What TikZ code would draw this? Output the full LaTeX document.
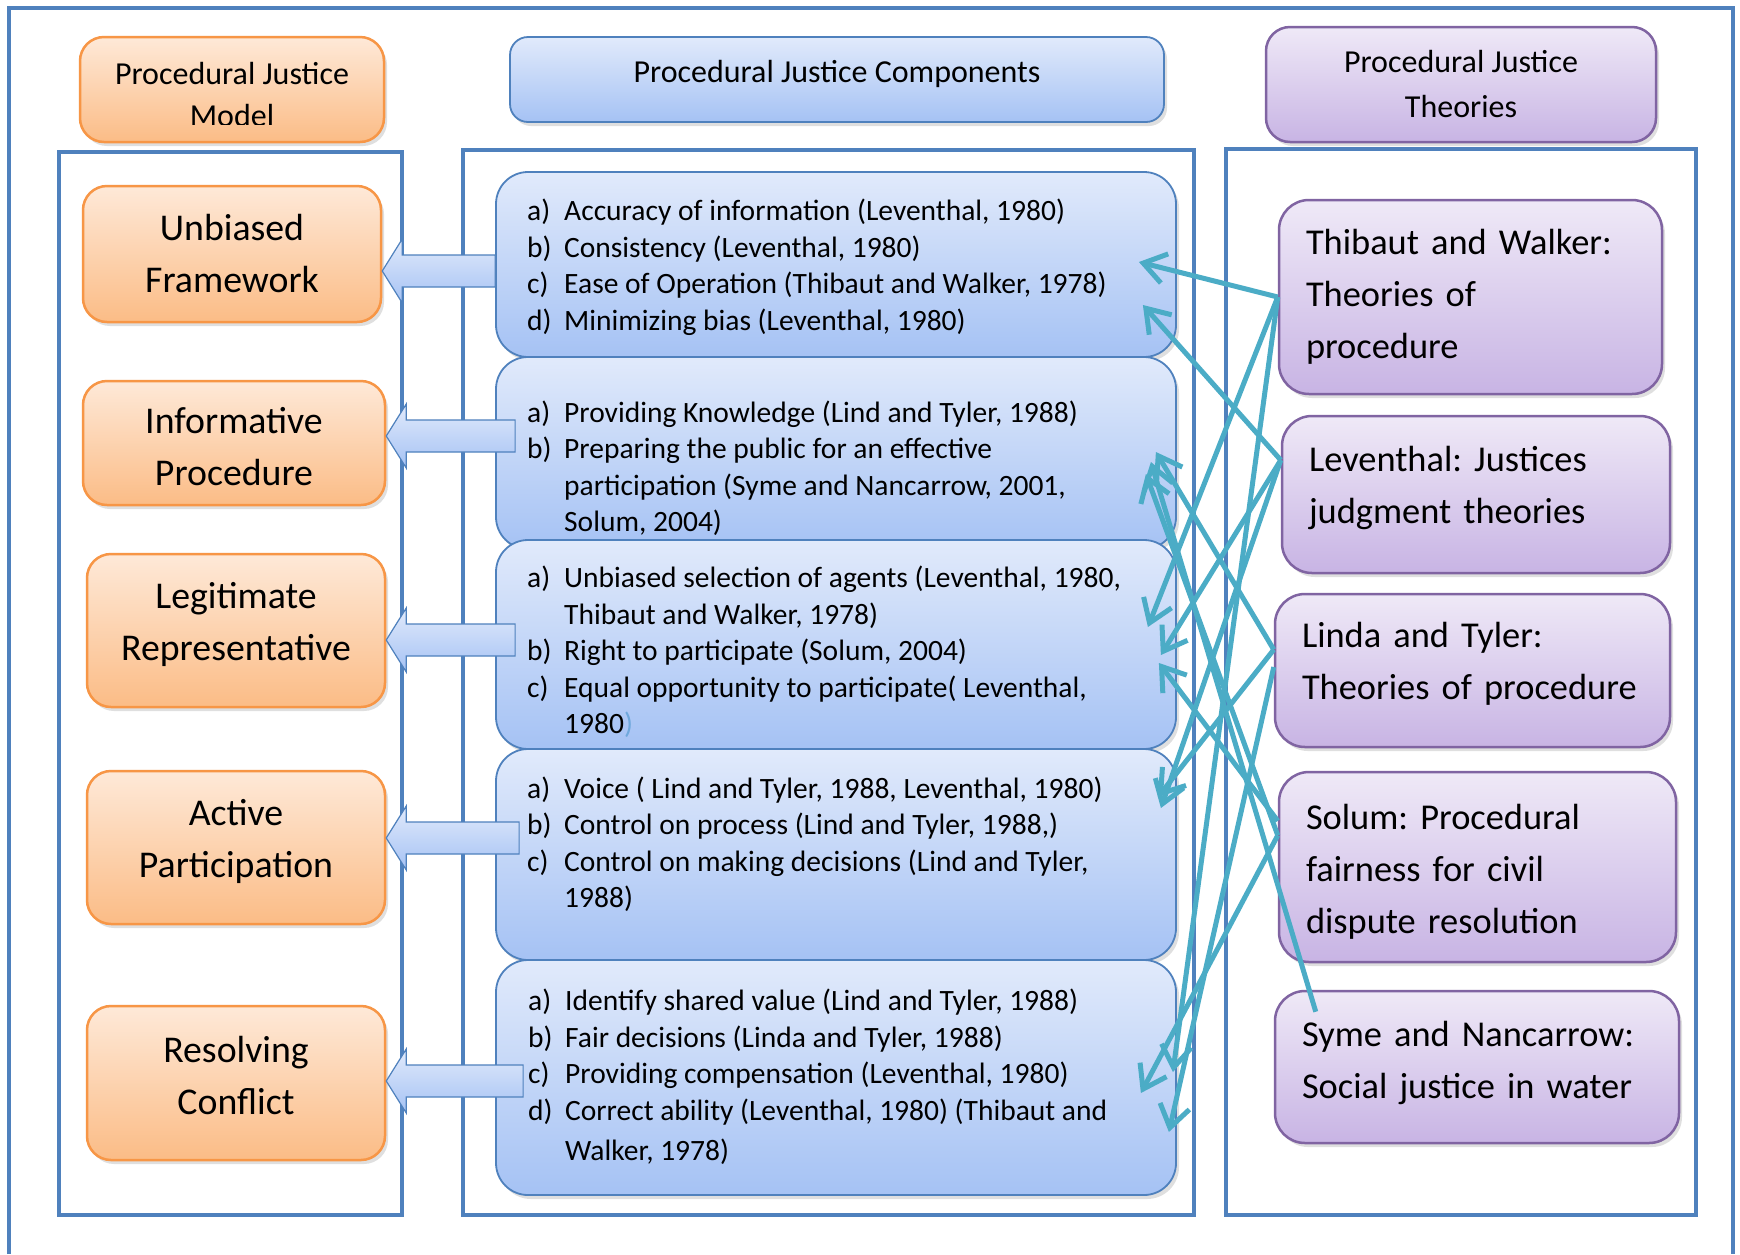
\documentclass[tikz,border=0pt]{standalone}
\usepackage{fontspec}
\setmainfont{Carlito}
\usetikzlibrary{arrows.meta,calc,shadows}

\definecolor{frameblue}{HTML}{4F81BD}
\definecolor{orangeline}{HTML}{F79646}
\definecolor{orangetop}{HTML}{FEE9D8}
\definecolor{orangebot}{HTML}{FBBC86}
\definecolor{comptop}{HTML}{E1EAFB}
\definecolor{compbot}{HTML}{A5C2F4}
\definecolor{purpleline}{HTML}{8064A2}
\definecolor{purpletop}{HTML}{EFE9F7}
\definecolor{purplebot}{HTML}{C8B4E4}
\definecolor{linkteal}{HTML}{4BACC6}
\definecolor{parenblue}{HTML}{6FA8DC}

\newcommand{\itemlbl}[1]{\makebox[37pt][l]{#1}}
\newcommand{\lowstrut}[1]{\rule[-#1]{0pt}{0pt}}
\newcommand{\highstrut}[1]{\rule{0pt}{#1}}
\newcommand{\blockarrow}[4]{%
  \draw[barrow] ($(#1.west |- 0,#3)+(#4,-16)$) -- ($(#2.east |- 0,#3)+(20,-16)$)
    -- ++(0,-16) -- (#2.east |- 0,#3) -- ++(20,32) -- ++(0,-16)
    -- ($(#1.west |- 0,#3)+(#4,16)$) -- cycle;}

\begin{document}
\frenchspacing
\begin{tikzpicture}[x=1pt,y=-1pt,
    colframe/.style={draw=frameblue,line width=4.5pt},
    model/.style={draw=orangeline,line width=2.5pt,rounded corners=24pt,
      top color=orangetop,bottom color=orangebot,
      drop shadow={shadow xshift=3pt,shadow yshift=-4pt,opacity=.25},
      align=center,inner sep=0pt,font=\fontsize{37.8}{52}\selectfont},
    comp/.style={draw=frameblue,line width=1.8pt,rounded corners=32pt,
      top color=comptop,bottom color=compbot,
      drop shadow={shadow xshift=3pt,shadow yshift=-4pt,opacity=.25},
      inner sep=0pt},
    comptext/.style={anchor=west,align=left,inner sep=0pt,
      font=\fontsize{29.5}{36.5}\selectfont},
    theory/.style={draw=purpleline,line width=2.5pt,rounded corners=30pt,
      top color=purpletop,bottom color=purplebot,
      drop shadow={shadow xshift=3pt,shadow yshift=-4pt,opacity=.25},
      align=left,inner xsep=27pt,inner ysep=0pt,
      font=\fontsize{36.4}{52}\selectfont},
    barrow/.style={draw=frameblue,line width=1.2pt,top color=comptop,bottom color=compbot},
    link/.style={draw=linkteal,line width=5pt,-{Straight Barb[length=22pt,width=30pt]}}]

    \path[use as bounding box,fill=white] (0,0) rectangle (1740,1254);

    % frames
    \draw[colframe] (9,1254) -- (9,8) -- (1733,8) -- (1733,1254);
    \draw[colframe] (59,152) rectangle (402,1215);
    \draw[colframe] (463,150) rectangle (1194,1215);
    \draw[colframe] (1226,149) rectangle (1696,1215);

    % headings
    \node[model,minimum width=304pt,minimum height=105pt] (pjm) at (232,89.5) {};
    \begin{scope}
        \clip (82,39) rectangle (382,124);
        \node[align=center,font=\fontsize{32}{42}\selectfont] (pjmtext) at (232,94) {Procedural Justice\\Model};
    \end{scope}
    \node[comp,minimum width=654pt,minimum height=85pt,rounded corners=18pt,text depth=16pt,
          font=\fontsize{32}{42}\selectfont] (pjc) at (837,79.5) {Procedural Justice Components};
    \node[theory,align=center,minimum width=390pt,minimum height=115pt,rounded corners=24pt,
          font=\fontsize{32}{45}\selectfont] (pjt) at (1461,84.5) {Procedural Justice\\Theories};

    % model
    \node[model,minimum width=298pt,minimum height=136pt] (n1) at (232,254) {Unbiased\\Framework};
    \node[model,minimum width=302pt,minimum height=124pt] (n2) at (234,443) {\highstrut{34pt}Informative\\Procedure};
    \node[model,minimum width=298pt,minimum height=153pt] (n3) at (236,630.5) {Legitimate\\Representative\lowstrut{18pt}};
    \node[model,minimum width=298pt,minimum height=153pt] (n4) at (236,847.5) {Active\\Participation\lowstrut{18pt}};
    \node[model,minimum width=298pt,minimum height=154pt] (n5) at (236,1083) {Resolving\\Conflict\lowstrut{16pt}};

    % components
    \node[comp,minimum width=680pt,minimum height=185pt] (c1) at (836,264.5) {};
    \node[comptext] (c1t) at (527,267) {\itemlbl{a)}Accuracy of information (Leventhal, 1980)\\
        \itemlbl{b)}Consistency (Leventhal, 1980)\\
        \itemlbl{c)}Ease of Operation (Thibaut and Walker, 1978)\\
        \itemlbl{d)}Minimizing bias (Leventhal, 1980)};
    \node[comp,minimum width=680pt,minimum height=192pt] (c2) at (836,453) {};
    \node[comptext] (c2t) at (527,468) {\itemlbl{a)}Providing Knowledge (Lind and Tyler, 1988)\\
        \itemlbl{b)}Preparing the public for an effective\\
        \itemlbl{}participation (Syme and Nancarrow, 2001,\\
        \itemlbl{}Solum, 2004)};
    \node[comp,minimum width=680pt,minimum height=209pt] (c3) at (836,644.5) {};
    \node[comptext] (c3t) at (527,652) {\itemlbl{a)}Unbiased selection of agents (Leventhal, 1980,\\
        \itemlbl{}Thibaut and Walker, 1978)\\
        \itemlbl{b)}Right to participate (Solum, 2004)\\
        \itemlbl{c)}Equal opportunity to participate( Leventhal,\\
        \itemlbl{}1980\textcolor{parenblue}{)}};
    \node[comp,minimum width=680pt,minimum height=211pt] (c4) at (836,854.5) {};
    \node[comptext] (c4t) at (527,844) {\itemlbl{a)}Voice ( Lind and Tyler, 1988, Leventhal, 1980)\\
        \itemlbl{b)}Control on process (Lind and Tyler, 1988,)\\
        \itemlbl{c)}Control on making decisions (Lind and Tyler,\\
        \itemlbl{}1988)};
    \node[comp,minimum width=680pt,minimum height=235pt] (c5) at (836,1077.5) {};
    \node[comptext] (c5t) at (528,1077) {\itemlbl{a)}Identify shared value (Lind and Tyler, 1988)\\
        \itemlbl{b)}Fair decisions (Linda and Tyler, 1988)\\
        \itemlbl{c)}Providing compensation (Leventhal, 1980)\\
        \itemlbl{d)}Correct ability (Leventhal, 1980) (Thibaut and\\[4pt]
        \itemlbl{}Walker, 1978)};

    % theories
    \node[theory,minimum height=194pt,text width=329pt] (tw) at (1470.5,297) {Thibaut and Walker:\\Theories of\\procedure};
    \node[theory,minimum height=157pt,text width=334pt] (lev) at (1476,494.5) {Leventhal: Justices\\judgment theories\lowstrut{19pt}};
    \node[theory,minimum height=153pt,text width=341pt] (lt) at (1472.5,670.5) {Linda and Tyler:\\Theories of procedure\lowstrut{19pt}};
    \node[theory,minimum height=190pt,text width=343pt] (sol) at (1477.5,867) {\highstrut{34pt}Solum: Procedural\\fairness for civil\\dispute resolution};
    \node[theory,minimum height=152pt,text width=350pt] (syme) at (1477,1067) {Syme and Nancarrow:\\Social justice in water\lowstrut{15pt}};

    % block arrows
    \blockarrow{c1}{n1}{271}{0}
    \blockarrow{c2}{n2}{436}{20}
    \blockarrow{c3}{n3}{640}{20}
    \blockarrow{c4}{n4}{838}{24}
    \blockarrow{c5}{n5}{1081}{28}

    % links
    \draw[link] (tw.west) -- ($(c1.east)+(-38,-2.5)$);
    \draw[link] (tw.west) -- ($(c3.east)+(-29,-17.5)$);
    \draw[link] (tw.west) -- ($(c5.east)+(-4,-5.5)$);
    \draw[link] (lev.170) -- ($(c1.east)+(-34,40.5)$);
    \draw[link] (lev.170) -- ($(c3.east)+(-16,10.5)$);
    \draw[link] (lev.170) -- ($(c4.east)+(-16,-46.5)$);
    \draw[link] (lt.174) -- ($(c2.east)+(-21,-1)$);
    \draw[link] (lt.174) -- ($(c4.east)+(-19,-57.5)$);
    \draw[link] (lt.179) -- ($(c5.east)+(-8,54.5)$);
    \draw[link] (sol.167) -- ($(c3.east)+(-18,18.5)$);
    \draw[link] (sol.171) -- ($(c2.east)+(-31,21)$);
    \draw[link] (sol.171) -- ($(c5.east)+(-36,15.5)$);
    \draw[link] ($(syme.north west)+(42,22)$) -- ($(c2.east)+(-26,9)$);
\end{tikzpicture}
\end{document}
